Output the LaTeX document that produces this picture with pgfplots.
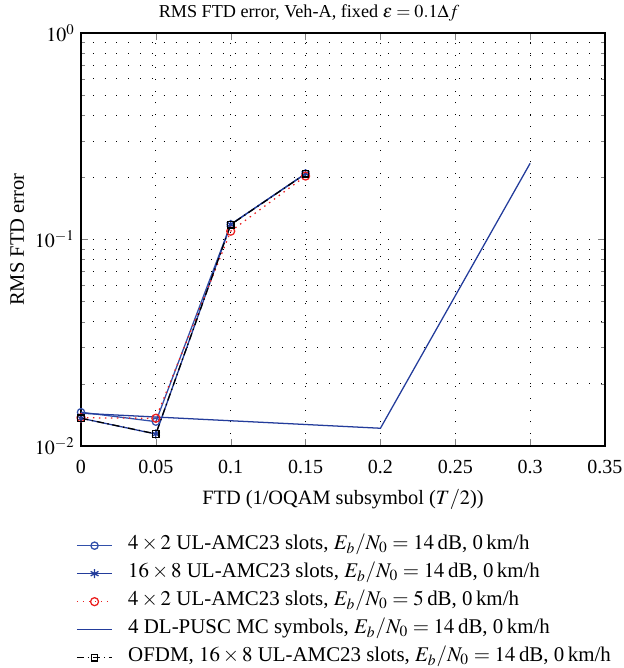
\documentclass[border=0pt]{standalone}
\usepackage{mathptmx}
\usepackage{fontspec}
\setmainfont{Liberation Serif}
\usepackage{pgfplots}
\pgfplotsset{compat=1.18}
\definecolor{b1}{RGB}{50,80,170}
\definecolor{b2}{RGB}{35,60,155}
\definecolor{r1}{RGB}{235,30,30}
\begin{document}
\begin{tikzpicture}
\begin{axis}[
  scale only axis,
  width=288.2pt, height=227.15pt,
  ymode=log,
  xmin=0, xmax=0.35, ymin=0.01, ymax=1,
  xtick={0,0.05,0.1,0.15,0.2,0.25,0.3,0.35},
  xticklabels={0,0.05,0.1,0.15,0.2,0.25,0.3,0.35},
  ytick={0.01,0.1,1},
  tick label style={font=\fontsize{11}{13}\selectfont},
  xticklabel style={yshift=-4pt},
  tick align=inside,
  major tick length=4pt, minor tick length=2pt,
  grid=both,
  major grid style={black, line width=0.5pt, dash pattern=on 0.5pt off 6pt},
  minor grid style={black, line width=0.5pt, dash pattern=on 0.5pt off 6pt},
  axis line style={black, line width=0.6pt},
  title={RMS FTD error, Veh-A, fixed $\varepsilon = 0.1\Delta f$},
  title style={font=\fontsize{10}{12}\selectfont, xshift=-18.7pt, yshift=-3pt},
  xlabel={FTD (1/OQAM subsymbol ($T/2$))},
  xlabel style={font=\fontsize{11.2}{13}\selectfont, yshift=-2pt},
  ylabel={RMS FTD error},
  ylabel style={font=\fontsize{11.3}{13}\selectfont, yshift=-1pt},
  legend cell align=left,
  legend style={draw=none, fill=none, at={(-0.02,-0.203)}, anchor=north west,
    row sep=2.4pt, column sep=7pt, font=\fontsize{11.5}{13.5}\selectfont,
    nodes={inner sep=1.5pt, text height=0.72em, text depth=0.28em}},
  legend image code/.code={
    \draw[mark repeat=2,mark phase=2,#1] plot coordinates {(0cm,0cm) (0.34cm,0cm) (0.68cm,0cm)};
  },
]
\addplot[b1, line width=0.7pt, mark=o, mark size=2pt, mark options={solid}] coordinates {
 (0,0.01458) (0.05,0.01312) (0.1,0.1183) (0.15,0.2084)};
\addlegendentry{$4\times 2$ UL-AMC23 slots, $E_b/N_0 = 14$\,dB, 0\,km/h}
\addplot[b2, line width=0.7pt, mark=asterisk, mark size=2.5pt, mark options={solid}] coordinates {
 (0,0.01363) (0.05,0.01143) (0.1,0.1183) (0.15,0.2084)};
\addlegendentry{$16\times 8$ UL-AMC23 slots, $E_b/N_0 = 14$\,dB, 0\,km/h}
\addplot[r1, line width=0.7pt, dash pattern=on 0.8pt off 2.5pt, mark=o, mark size=2.2pt, mark options={solid}] coordinates {
 (0,0.0137) (0.05,0.01363) (0.1,0.1097) (0.15,0.2029)};
\addlegendentry{$4\times 2$ UL-AMC23 slots, $E_b/N_0 = 5$\,dB, 0\,km/h}
\addplot[b2, line width=0.7pt] coordinates {
 (0,0.01441) (0.2,0.01219) (0.3,0.2339)};
\addlegendentry{4 DL-PUSC MC symbols, $E_b/N_0 = 14$\,dB, 0\,km/h}
\addplot[black, line width=0.7pt, dash pattern=on 4pt off 2pt on 0.8pt off 2pt, mark=square, mark size=1.8pt, mark options={solid}] coordinates {
 (0,0.01363) (0.05,0.01145) (0.1,0.118) (0.15,0.208)};
\addlegendentry{OFDM, $16\times 8$ UL-AMC23 slots, $E_b/N_0 = 14$\,dB, 0\,km/h}
\end{axis}
\pgfresetboundingbox
\useasboundingbox (current axis.south west) ++(-44.55pt,-122.1pt) rectangle ++(343.2pt,367.4pt);
\end{tikzpicture}
\end{document}
